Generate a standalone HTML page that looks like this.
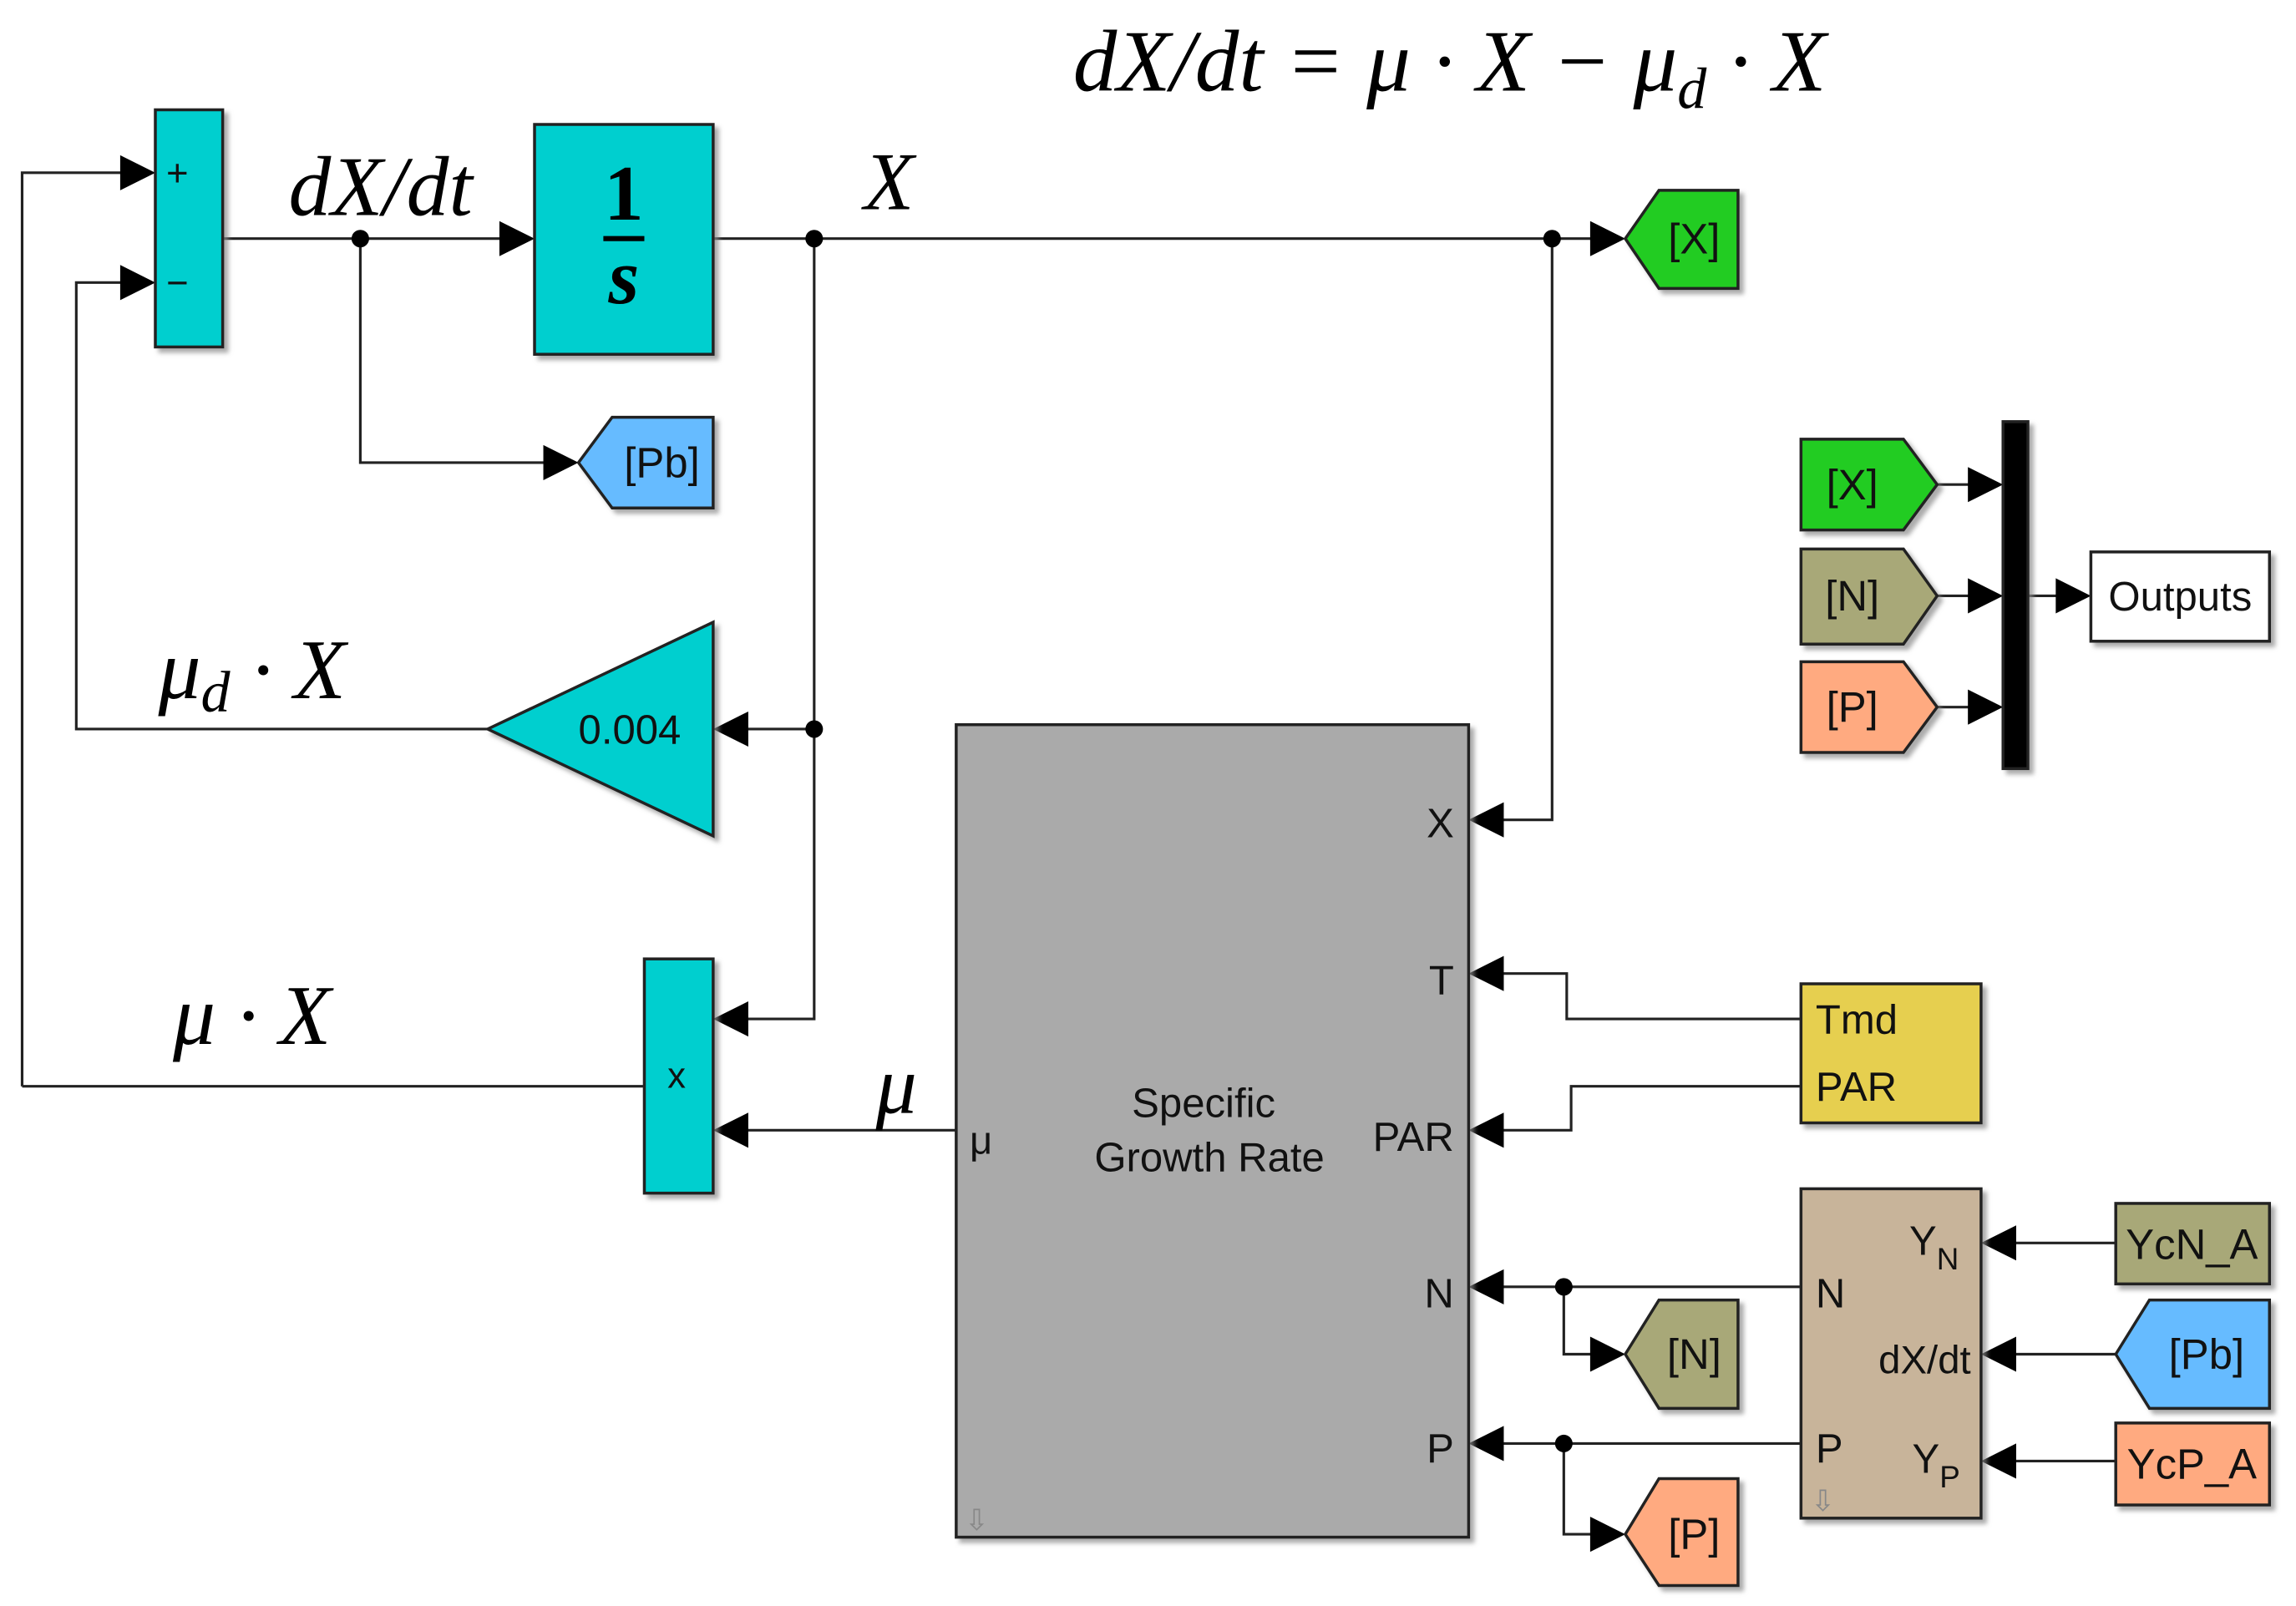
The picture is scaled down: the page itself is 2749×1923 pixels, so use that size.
<!DOCTYPE html>
<html><head><meta charset="utf-8"><style>html,body{margin:0;padding:0;background:#fff}svg{display:block}</style></head>
<body>
<svg width="2749" height="1923" viewBox="0 0 1568 1097" xmlns="http://www.w3.org/2000/svg">
<defs><filter id="sh" x="-10%" y="-10%" width="130%" height="130%"><feDropShadow dx="3" dy="3" stdDeviation="1.5" flood-color="#888" flood-opacity="0.7"/></filter></defs>
<g fill="none" stroke="#222" stroke-width="1.8">
<polyline points="15,742 15,118 86,118"/>
<polyline points="333,498 52,498 52,193 86,193"/>
<line x1="152" y1="163" x2="345" y2="163"/>
<polyline points="246,163 246,316 375,316"/>
<line x1="487" y1="163" x2="1090" y2="163"/>
<polyline points="556,163 556,696 507,696"/>
<line x1="556" y1="498" x2="507" y2="498"/>
<line x1="440" y1="742" x2="15" y2="742"/>
<line x1="653" y1="772" x2="507" y2="772"/>
<polyline points="1060,163 1060,560 1023,560"/>
<polyline points="1230,696 1070,696 1070,665 1023,665"/>
<polyline points="1230,742 1073,742 1073,772 1023,772"/>
<line x1="1230" y1="879" x2="1023" y2="879"/>
<polyline points="1068,879 1068,925 1090,925"/>
<line x1="1230" y1="986" x2="1023" y2="986"/>
<polyline points="1068,986 1068,1048 1090,1048"/>
<line x1="1445" y1="849" x2="1373" y2="849"/>
<line x1="1445" y1="925" x2="1373" y2="925"/>
<line x1="1445" y1="998" x2="1373" y2="998"/>
<line x1="1323" y1="331" x2="1348" y2="331"/>
<line x1="1323" y1="407" x2="1348" y2="407"/>
<line x1="1323" y1="483" x2="1348" y2="483"/>
<line x1="1385" y1="407" x2="1408" y2="407"/>
</g>
<g fill="#000">
<polygon points="82,106 106,118 82,130"/>
<polygon points="82,181 106,193 82,205"/>
<polygon points="341,151 365,163 341,175"/>
<polygon points="371,304 395,316 371,328"/>
<polygon points="1086,151 1110,163 1086,175"/>
<polygon points="1086,913 1110,925 1086,937"/>
<polygon points="1086,1036 1110,1048 1086,1060"/>
<polygon points="1344,319 1368,331 1344,343"/>
<polygon points="1344,395 1368,407 1344,419"/>
<polygon points="1344,471 1368,483 1344,495"/>
<polygon points="1404,395 1428,407 1404,419"/>
<polygon points="511,486 487,498 511,510"/>
<polygon points="511,684 487,696 511,708"/>
<polygon points="511,760 487,772 511,784"/>
<polygon points="1027,548 1003,560 1027,572"/>
<polygon points="1027,653 1003,665 1027,677"/>
<polygon points="1027,760 1003,772 1027,784"/>
<polygon points="1027,867 1003,879 1027,891"/>
<polygon points="1027,974 1003,986 1027,998"/>
<polygon points="1377,837 1353,849 1377,861"/>
<polygon points="1377,913 1353,925 1377,937"/>
<polygon points="1377,986 1353,998 1377,1010"/>
<circle cx="246" cy="163" r="6"/><circle cx="556" cy="163" r="6"/><circle cx="1060" cy="163" r="6"/>
<circle cx="556" cy="498" r="6"/><circle cx="1068" cy="879" r="6"/><circle cx="1068" cy="986" r="6"/>
</g>
<g stroke="#222" stroke-width="2" filter="url(#sh)">
<rect x="106" y="75" width="46" height="162" fill="#00cfcf"/>
<rect x="365" y="85" width="122" height="157" fill="#00cfcf"/>
<polygon points="395,316 418,285 487,285 487,347 418,347" fill="#66bbff"/>
<polygon points="1110,163 1133,130 1187,130 1187,197 1133,197" fill="#22cc22"/>
<polygon points="333,498 487,425 487,571" fill="#00cfcf"/>
<rect x="440" y="655" width="47" height="160" fill="#00cfcf"/>
<rect x="653" y="495" width="350" height="555" fill="#aaaaaa"/>
<rect x="1230" y="672" width="123" height="95" fill="#e6cf50"/>
<rect x="1230" y="812" width="123" height="225" fill="#c8b49a"/>
<polygon points="1110,925 1133,888 1187,888 1187,962 1133,962" fill="#a8a878"/>
<polygon points="1110,1048 1133,1010 1187,1010 1187,1083 1133,1083" fill="#ffaa80"/>
<rect x="1445" y="822" width="105" height="55" fill="#a8a878"/>
<polygon points="1445,925 1468,888 1550,888 1550,962 1468,962" fill="#66bbff"/>
<rect x="1445" y="972" width="105" height="56" fill="#ffaa80"/>
<polygon points="1230,300 1300,300 1323,331 1300,362 1230,362" fill="#22cc22"/>
<polygon points="1230,375 1300,375 1323,407 1300,440 1230,440" fill="#a8a878"/>
<polygon points="1230,452 1300,452 1323,483 1300,514 1230,514" fill="#ffaa80"/>
<rect x="1368" y="288" width="17" height="237" fill="#000"/>
<rect x="1428" y="377" width="122" height="61" fill="#fff"/>
</g>
<line x1="412" y1="163" x2="440" y2="163" stroke="#000" stroke-width="3.5"/>
<g font-family="Liberation Serif, serif" font-style="italic" fill="#000">
<text x="990" y="62" font-size="60" text-anchor="middle">dX/dt = μ · X − μ<tspan font-size="40" dy="12">d</tspan><tspan dy="-12"> · X</tspan></text>
<text x="197" y="147" font-size="58">dX/dt</text>
<text x="590" y="143" font-size="56">X</text>
<text x="108" y="477" font-size="58">μ<tspan font-size="40" dy="9">d</tspan><tspan dy="-9"> · X</tspan></text>
<text x="118" y="713" font-size="58">μ · X</text>
<text x="598" y="760" font-size="56">μ</text>
<text x="426" y="150" font-size="54" font-weight="bold" text-anchor="middle" font-style="normal">1</text>
<text x="426" y="207" font-size="54" font-weight="bold" text-anchor="middle">s</text>
</g>
<g font-family="Liberation Sans, sans-serif" fill="#111" font-size="27">
<text x="121" y="127" text-anchor="middle" font-size="26">+</text>
<text x="121" y="202" text-anchor="middle" font-size="26">−</text>
<text x="452" y="326" text-anchor="middle" font-size="29">[Pb]</text>
<text x="1157" y="173" text-anchor="middle" font-size="29">[X]</text>
<text x="430" y="508" text-anchor="middle" font-size="28">0.004</text>
<text x="462" y="743" text-anchor="middle" font-size="25">x</text>
<text x="822" y="763" text-anchor="middle" font-size="28">Specific</text>
<text x="826" y="800" text-anchor="middle" font-size="28">Growth Rate</text>
<text x="670" y="788" text-anchor="middle">μ</text>
<text x="993" y="572" text-anchor="end" font-size="28">X</text>
<text x="993" y="679" text-anchor="end" font-size="28">T</text>
<text x="993" y="786" text-anchor="end" font-size="28">PAR</text>
<text x="993" y="893" text-anchor="end" font-size="28">N</text>
<text x="993" y="999" text-anchor="end" font-size="28">P</text>
<text x="1240" y="706" font-size="28">Tmd</text>
<text x="1240" y="752" font-size="28">PAR</text>
<text x="1240" y="893" font-size="28">N</text>
<text x="1346" y="938" text-anchor="end">dX/dt</text>
<text x="1240" y="999" font-size="28">P</text>
<text x="1304" y="857" font-size="28">Y<tspan font-size="21" dy="10">N</tspan></text>
<text x="1306" y="1006" font-size="28">Y<tspan font-size="21" dy="10">P</tspan></text>
<text x="1157" y="935" text-anchor="middle" font-size="29">[N]</text>
<text x="1157" y="1058" text-anchor="middle" font-size="29">[P]</text>
<text x="1497" y="860" text-anchor="middle" font-size="29">YcN_A</text>
<text x="1507" y="935" text-anchor="middle" font-size="29">[Pb]</text>
<text x="1497" y="1010" text-anchor="middle" font-size="29">YcP_A</text>
<text x="1265" y="341" text-anchor="middle" font-size="29">[X]</text>
<text x="1265" y="417" text-anchor="middle" font-size="29">[N]</text>
<text x="1265" y="493" text-anchor="middle" font-size="29">[P]</text>
<text x="1489" y="417" text-anchor="middle" font-size="28">Outputs</text>
<text x="667" y="1045" text-anchor="middle" font-size="20" fill="#888">⇩</text>
<text x="1245" y="1032" text-anchor="middle" font-size="20" fill="#888">⇩</text>
</g>
</svg>
</body></html>
